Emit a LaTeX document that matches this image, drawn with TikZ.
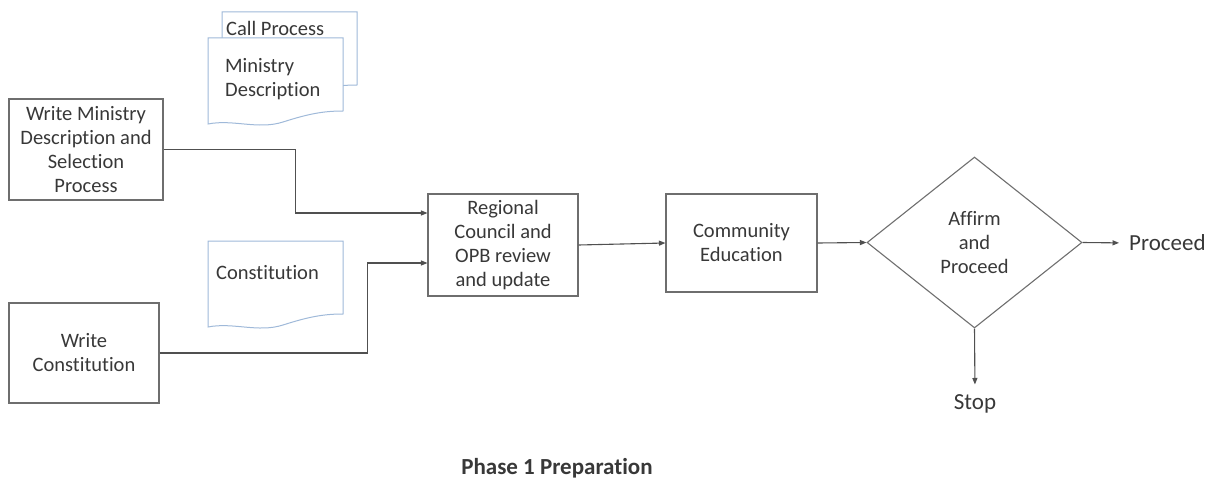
\documentclass[tikz,border=0pt]{standalone}
\usepackage{fontspec}
\setmainfont{Carlito}[Ligatures=NoCommon]
\usetikzlibrary{shapes.geometric,arrows.meta,calc}
\definecolor{txt}{HTML}{383838}
\definecolor{boxline}{HTML}{6E6E6E}
\definecolor{docline}{HTML}{9FB9D9}
\definecolor{conn}{HTML}{505050}
\tikzset{
  box/.style={draw=boxline, line width=1.1pt, rectangle, align=center, text=txt, inner sep=0pt,
    font=\fontsize{20.5}{24}\selectfont},
  arr/.style={draw=conn, line width=1.1pt, -{Triangle[length=6.5pt,width=5pt]}},
  doc/.style={draw=docline, line width=1pt, fill=white},
  doctext/.style={text=txt, align=left, inner sep=0pt, font=\fontsize{20.5}{24}\selectfont},
  lbl/.style={text=txt, inner sep=0pt, font=\fontsize{23}{26}\selectfont}
}
\newcommand\mydocpath[2]{%
  (#1,#2) -- ++(135,0) -- ++(0,73)
  .. controls ++(-20,0) and ++(25,-8) .. ++(-60,11)
  .. controls ++(-25,8) and ++(25,-5) .. ++(-75,2) -- cycle}
\begin{document}
\begin{tikzpicture}[x=1pt,y=-1pt]
\useasboundingbox (0,0) rectangle (1209,481);
% documents
\draw[doc] \mydocpath{222}{12};
\draw[doc] \mydocpath{208}{38};
\draw[doc] \mydocpath{208}{241};
\node[doctext, anchor=west] (cp) at (226,28) {Call Process};
\node[doctext, anchor=west] (md) at (225,79) {Ministry\\Description};
\node[doctext, anchor=west] (co) at (216,273) {Constitution};
% process boxes
\node[box, minimum width=154pt, minimum height=101pt] (wm) at (86,149.5)
  {Write Ministry\\Description and\\Selection\\Process};
\node[box, minimum width=150pt, minimum height=100pt] (wc) at (84,353)
  {Write\\Constitution};
\node[box, minimum width=150pt, minimum height=102pt] (rc) at (503,245)
  {Regional\\Council and\\OPB review\\and update};
\node[box, minimum width=151pt, minimum height=98pt] (ce) at (741.5,243)
  {Community\\Education};
\node[box, diamond, minimum width=215pt, minimum height=171pt] (dm) at (974.5,242.5)
  {Affirm\\and\\Proceed};
\node[lbl, anchor=west] (pr) at (1129,243) {Proceed};
\node[lbl] (st) at (975,404) {Stop};
\node[text=txt, font=\bfseries\fontsize{23}{26}\selectfont] (ph) at (557,468) {Phase 1 Preparation};
% connectors
\draw[arr] (wm.east) -| ($(rc.west)+(-132,-32)$) -- ($(rc.west)+(0,-32)$);
\draw[arr] (wc.east) -| ($(rc.west)+(-60,18)$) -- ($(rc.west)+(0,18)$);
\draw[arr] (rc.east) -- (ce.west);
\draw[arr] (ce.east) -- (dm.west);
\draw[arr, shorten >=10pt] (dm.east) -- (pr.west);
\draw[arr, shorten >=10pt] (dm.south) -- (st.north);
\end{tikzpicture}
\end{document}
